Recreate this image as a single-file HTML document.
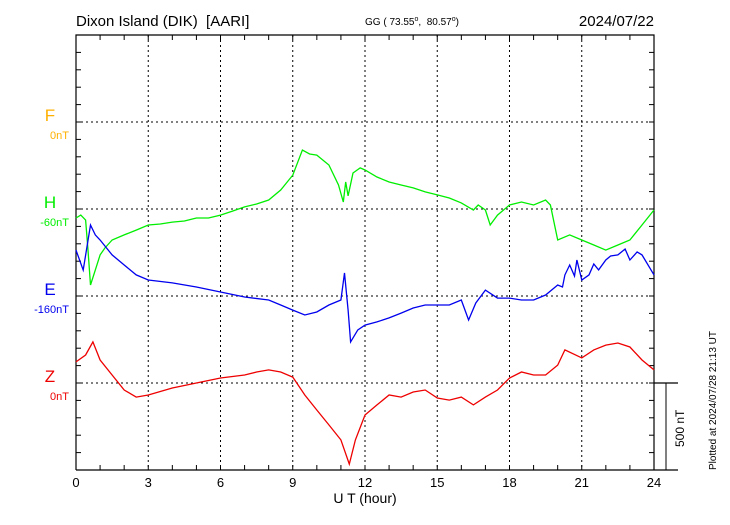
<!DOCTYPE html>
<html><head><meta charset="utf-8"><style>
body{margin:0;background:#fff;width:730px;height:520px;overflow:hidden}
svg text{font-family:"Liberation Sans",sans-serif}
</style></head><body>
<svg id="chart" width="730" height="520" xmlns="http://www.w3.org/2000/svg">
<text x="76" y="26" font-size="15">Dixon Island (DIK)&#160;&#160;[AARI]</text>
<text x="365" y="25" font-size="10">GG ( 73.55<tspan dy="-4" font-size="7">o</tspan><tspan dy="4">,&#160;&#160;80.57</tspan><tspan dy="-4" font-size="7">o</tspan><tspan dy="4">)</tspan></text>
<text x="654" y="26" font-size="15" text-anchor="end">2024/07/22</text>
<g id="grid"></g>
<g id="series"></g>
<text x="365" y="503" font-size="14" text-anchor="middle">U T (hour)</text>
<text transform="translate(716,470) rotate(-90)" font-size="10">Plotted at 2024/07/28 21:13 UT</text>
<text transform="translate(684,447) rotate(-90)" font-size="12">500 nT</text>
</svg>
<script>
const hours=[0,3,6,9,12,15,18,21,24];
const hT=[0,0.2,0.4,0.5,0.6,0.8,1.0,1.2,1.5,2,2.5,3,3.5,4,4.5,5,5.5,6,6.5,7,7.5,8,8.5,9,9.4,9.7,10,10.5,10.9,11.1,11.2,11.3,11.5,11.8,12,12.5,13,13.5,14,14.5,15,15.5,16,16.5,16.7,17,17.2,17.5,18,18.5,19,19.5,19.7,20,20.5,21,21.5,22,22.5,23,23.5,24];
const hV=[-52,-35,-63,-236,-437,-351,-264,-224,-178,-149,-121,-92,-86,-75,-69,-52,-52,-35,-12,12,29,52,109,195,339,316,310,253,138,40,155,75,207,236,224,184,155,138,121,98,81,63,35,-6,23,-6,-92,-35,23,40,23,52,23,-178,-149,-178,-207,-236,-207,-178,-92,-6];
const eT=[0,0.3,0.6,0.8,1,1.5,2,2.5,3,4,5,6,7,8,8.5,9,9.5,10,10.5,11,11.15,11.3,11.4,11.7,12,12.5,13,13.5,14,14.5,15,15.5,16,16.3,16.6,17,17.5,18,18.5,19,19.5,20,20.2,20.3,20.5,20.7,20.8,21,21.3,21.5,21.7,22,22.2,22.5,22.8,23,23.3,23.5,24];
const eV=[264,149,408,351,322,236,178,121,92,75,52,23,-6,-23,-52,-81,-109,-92,-52,-23,132,-81,-264,-195,-167,-149,-126,-98,-69,-52,-52,-52,-23,-138,-40,34,-12,-12,-23,-23,6,63,52,121,178,115,207,92,121,184,150,207,230,236,270,207,253,236,121];
const zT=[0,0.4,0.7,1,1.5,2,2.5,3,4,5,6,7,7.5,8,8.5,9,9.5,10,10.5,11,11.35,11.6,12,12.5,13,13.5,14,14.5,15,15.5,16,16.5,17,17.5,18,18.5,19,19.5,20,20.3,21,21.5,22,22.5,23,23.5,24];
const zV=[121,161,236,132,46,-40,-81,-69,-29,0,29,46,63,75,63,34,-69,-155,-241,-327,-466,-327,-184,-126,-69,-81,-52,-40,-86,-98,-81,-126,-81,-40,29,63,46,46,103,190,144,190,218,230,207,132,75];
const seriesNames=["F","H","E","Z"];
const baseLabels=["0nT","-60nT","-160nT","0nT"];
const X0=76,X1=654,Y0=35,Y1=470,PX=87/500;
const xs=h=>X0+(X1-X0)*h/24;
const base=[122,209,296,383];
const ys=(i,v)=>base[i]-v*PX;
const NS="http://www.w3.org/2000/svg";
const g=document.getElementById('grid'),s=document.getElementById('series');
function mk(p,tag,a){const e=document.createElementNS(NS,tag);for(const k in a)e.setAttribute(k,a[k]);p.appendChild(e);return e;}
let e=mk(g,'path',{d:`M${X0},${Y1}V${Y0}H${X1}V${Y1}`,fill:'none',stroke:'#000','stroke-width':1.2});


e=mk(g,'line',{x1:X0,y1:Y1,x2:678,y2:Y1,stroke:'#000','stroke-width':1.2});


e=mk(g,'line',{x1:X1,y1:383,x2:678,y2:383,stroke:'#000','stroke-width':1.2});


e=mk(g,'line',{x1:666,y1:383,x2:666,y2:470,stroke:'#000','stroke-width':1});


for(let i=0;i<=25;i++){const y=Y0+i*17.4;
 mk(g,'line',{x1:X0,y1:y,x2:X0+5,y2:y,stroke:'#000'});mk(g,'line',{x1:X1-5,y1:y,x2:X1,y2:y,stroke:'#000'});}
for(const b of base){e=mk(g,'line',{x1:X0,y1:b,x2:X1,y2:b,stroke:'#000','stroke-dasharray':'2,3'});
 
 }
for(let h=1;h<24;h++){const x=xs(h);mk(g,'line',{x1:x,y1:Y0,x2:x,y2:Y0+5,stroke:'#000'});mk(g,'line',{x1:x,y1:Y1-5,x2:x,y2:Y1,stroke:'#000'});}
hours.forEach(h=>{const x=xs(h);
 if(h>0&&h<24){e=mk(g,'line',{x1:x,y1:Y0,x2:x,y2:Y1,stroke:'#000','stroke-dasharray':'2,3'});
 
 }
 e=mk(g,'text',{x:x,y:487,'font-size':13,'text-anchor':'middle'});e.textContent=h;
 
 });
const colors=['#ffb000','#00ee00','#0000ee','#ee0000'];
seriesNames.forEach((n,i)=>{
 e=mk(s,'text',{x:50,y:base[i]-1,'font-size':17,'text-anchor':'middle',fill:colors[i]});e.textContent=n;
 
 
 e=mk(s,'text',{x:69,y:base[i]+17,'font-size':11,'text-anchor':'end',fill:colors[i]});e.textContent=baseLabels[i];
 
 });
function line(i,T,V,name){const d=T.map((t,k)=>(k?'L':'M')+xs(t).toFixed(1)+','+ys(i,V[k]).toFixed(1)).join('');
 const p=mk(s,'path',{d,fill:'none',stroke:colors[i],'stroke-width':1.3});
 
 }
line(1,hT,hV,'h-series');line(2,eT,eV,'e-series');line(3,zT,zV,'z-series');
</script>
</body></html>
